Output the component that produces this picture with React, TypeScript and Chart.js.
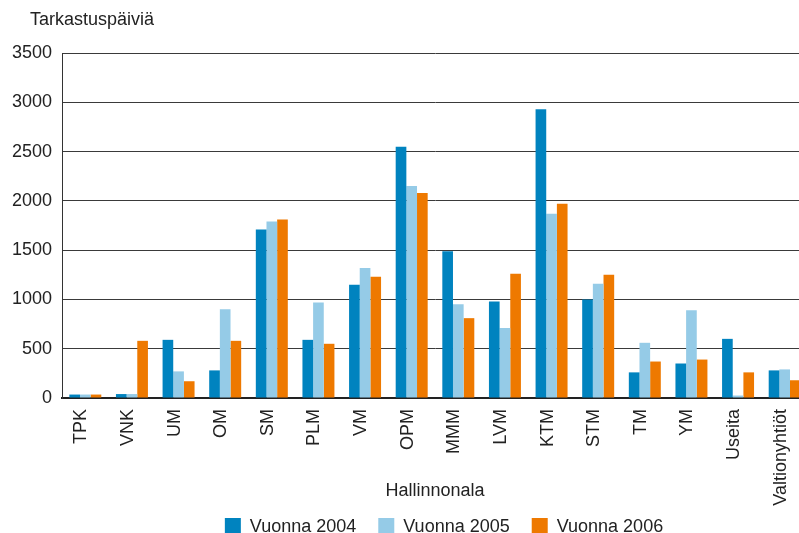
import React, { useEffect, useRef } from 'react';
import { Chart, registerables } from 'chart.js';

Chart.register(...registerables);

const categories = ['TPK', 'VNK', 'UM', 'OM', 'SM', 'PLM', 'VM', 'OPM', 'MMM', 'LVM', 'KTM', 'STM', 'TM', 'YM', 'Useita', 'Valtionyhtiöt'];
const vuonna2004 = [35, 40, 590, 280, 1710, 590, 1150, 2550, 1490, 980, 2930, 1000, 260, 350, 600, 280];
const vuonna2005 = [35, 40, 270, 900, 1790, 970, 1320, 2150, 950, 710, 1870, 1160, 560, 890, 25, 290];
const vuonna2006 = [35, 580, 170, 580, 1810, 550, 1230, 2080, 810, 1260, 1970, 1250, 370, 390, 260, 180];
const seriesLabels = ['Vuonna 2004', 'Vuonna 2005', 'Vuonna 2006'];
const seriesColors = ['#0083BF', '#95CBE7', '#EE7900'];
const yMin = 0;
const yMax = 3500;
const yStep = 500;
const yTitle = 'Tarkastuspäiviä';
const xTitle = 'Hallinnonala';

const FONT = "'Liberation Sans', Arial, Helvetica, sans-serif";
const TEXT = '#222222';

const overlay = {
  id: 'overlay',
  afterDraw(chart: any) {
    const { ctx, chartArea } = chart;
    ctx.save();
    ctx.font = `18px ${FONT}`;
    ctx.textAlign = 'left';
    ctx.textBaseline = 'alphabetic';
    ctx.fillStyle = TEXT;
    ctx.fillText(yTitle, chartArea.left - 32, 25);

    const box = 16;
    const gap = 9;
    const spacing = 22;
    const items = chart.data.datasets.map((ds: any) => ({
      label: ds.label,
      color: ds.backgroundColor,
      w: ctx.measureText(ds.label).width,
    }));
    const total = items.reduce((s: number, it: any) => s + box + gap + it.w, 0) + spacing * (items.length - 1);
    let x = (chartArea.left + chartArea.right) / 2 + 9 - total / 2;
    items.forEach((it: any) => {
      ctx.fillStyle = it.color;
      ctx.fillRect(x, 518, box, box);
      ctx.fillStyle = TEXT;
      ctx.fillText(it.label, x + box + gap, 532);
      x += box + gap + it.w + spacing;
    });
    ctx.restore();
  },
};

export default function App() {
  const ref = useRef<HTMLCanvasElement>(null);

  useEffect(() => {
    if (!ref.current) return;
    const series = [vuonna2004, vuonna2005, vuonna2006];
    const chart = new Chart(ref.current, {
      type: 'bar',
      data: {
        labels: categories,
        datasets: series.map((data, i) => ({
          label: seriesLabels[i],
          data,
          backgroundColor: seriesColors[i],
          borderWidth: 0,
          categoryPercentage: 0.686,
          barPercentage: 1,
        })),
      },
      options: {
        responsive: false,
        animation: false,
        devicePixelRatio: 1,
        layout: { padding: { top: 53, left: 0, right: 0, bottom: 0 } },
        plugins: {
          legend: { display: false },
          tooltip: { enabled: false },
          title: { display: false },
        },
        scales: {
          x: {
            offset: true,
            grid: { display: false, drawTicks: false },
            border: { display: true, color: '#222222', width: 2 },
            ticks: {
              autoSkip: false,
              minRotation: 90,
              maxRotation: 90,
              padding: 11,
              labelOffset: -4,
              color: TEXT,
              font: { family: FONT, size: 18 },
            },
            title: {
              display: true,
              text: xTitle,
              color: TEXT,
              font: { family: FONT, size: 18 },
              padding: { top: 0, bottom: 31 },
            },
            afterFit(scale: any) {
              scale.height = 135;
              scale.paddingLeft = 0;
              scale.paddingRight = 0;
            },
          },
          y: {
            min: yMin,
            max: yMax,
            grid: { color: '#3a3a3a', lineWidth: 1, drawTicks: false },
            border: { display: true, color: '#333333', width: 1 },
            ticks: {
              stepSize: yStep,
              padding: 10,
              color: TEXT,
              font: { family: FONT, size: 18 },
              callback: (v: any) => String(v),
            },
            afterFit(scale: any) {
              scale.width = 62;
            },
          },
        },
      },
      plugins: [overlay],
    });
    return () => chart.destroy();
  }, []);

  return (
    <div style={{ position: 'fixed', left: 0, top: 0, width: 808, height: 533, background: '#ffffff', overflow: 'hidden' }}>
      <canvas ref={ref} width={808} height={533} style={{ display: 'block' }} />
    </div>
  );
}
